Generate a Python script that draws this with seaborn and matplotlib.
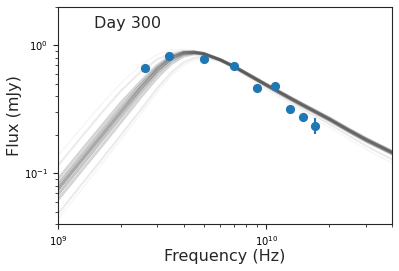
import numpy as np
import pandas as pd
import matplotlib
matplotlib.use('Agg')
import matplotlib.pyplot as plt
import seaborn as sns

sns.set_style('ticks')
plt.rcParams['font.family'] = ['DejaVu Sans']

# observed fluxes
obs_freq = [2.6e9, 3.4e9, 5.0e9, 7.0e9, 9.0e9, 1.1e10, 1.3e10, 1.5e10, 1.7e10]
obs_flux = [0.67, 0.82, 0.79, 0.685, 0.465, 0.48, 0.32, 0.275, 0.236]
obs_err = [0.012, 0.012, 0.012, 0.012, 0.010, 0.010, 0.010, 0.014, 0.032]

# model curves (GHz grid, mJy)
model_ghz = [1.0, 1.3, 1.6, 2.0, 2.5, 3.0, 3.5, 4.0, 4.5, 5.0, 6.0, 7.0, 8.5, 10, 12.5, 15, 20, 25, 30, 40]
curve_center = [0.075, 0.127, 0.192, 0.300, 0.465, 0.645, 0.795, 0.872, 0.882, 0.862, 0.772, 0.682, 0.570, 0.490, 0.400, 0.340, 0.265, 0.215, 0.183, 0.145]
curve_mid_up = [0.082, 0.139, 0.210, 0.327, 0.496, 0.675, 0.815, 0.882, 0.887, 0.864, 0.774, 0.686, 0.574, 0.494, 0.404, 0.344, 0.268, 0.218, 0.185, 0.147]
curve_mid_down = [0.068, 0.115, 0.175, 0.274, 0.430, 0.606, 0.760, 0.850, 0.870, 0.857, 0.770, 0.680, 0.566, 0.486, 0.396, 0.336, 0.262, 0.212, 0.180, 0.143]
curve_core_up = [0.090, 0.152, 0.229, 0.355, 0.525, 0.702, 0.837, 0.892, 0.892, 0.867, 0.777, 0.690, 0.578, 0.498, 0.408, 0.348, 0.272, 0.221, 0.188, 0.149]
curve_core_down = [0.062, 0.105, 0.159, 0.250, 0.395, 0.563, 0.720, 0.822, 0.857, 0.852, 0.767, 0.677, 0.562, 0.482, 0.392, 0.332, 0.258, 0.209, 0.177, 0.141]
curve_wide_up = [0.115, 0.193, 0.290, 0.440, 0.625, 0.780, 0.870, 0.905, 0.895, 0.865, 0.770, 0.680, 0.570, 0.490, 0.400, 0.340, 0.266, 0.216, 0.184, 0.146]
curve_wide_down = [0.048, 0.082, 0.125, 0.198, 0.315, 0.465, 0.615, 0.735, 0.800, 0.820, 0.760, 0.670, 0.555, 0.470, 0.378, 0.316, 0.243, 0.195, 0.164, 0.128]
curve_outer_up = [0.137, 0.228, 0.340, 0.505, 0.700, 0.850, 0.920, 0.930, 0.910, 0.875, 0.780, 0.688, 0.577, 0.497, 0.406, 0.346, 0.271, 0.220, 0.188, 0.150]
curve_outer_down = [0.044, 0.075, 0.115, 0.183, 0.292, 0.435, 0.580, 0.700, 0.770, 0.795, 0.740, 0.650, 0.535, 0.452, 0.360, 0.300, 0.229, 0.183, 0.154, 0.120]

curves = [
    (curve_outer_up, 1.0, 0.05),
    (curve_outer_down, 1.0, 0.05),
    (curve_wide_up, 1.5, 0.10),
    (curve_wide_down, 1.5, 0.10),
    (curve_core_up, 2.0, 0.22),
    (curve_core_down, 2.0, 0.22),
    (curve_mid_up, 2.0, 0.30),
    (curve_mid_down, 2.0, 0.30),
    (curve_center, 2.5, 0.45),
]

fig = plt.figure(figsize=(3.99, 2.71), dpi=100)
ax = fig.add_axes([58 / 399, 47 / 271, 334 / 399, 217 / 271])
ax.set(xscale='log', yscale='log')

model_hz = [g * 1e9 for g in model_ghz]
for vals, lw, a in curves:
    d = pd.DataFrame({'freq': model_hz, 'flux': vals})
    sns.lineplot(data=d, x='freq', y='flux', ax=ax, color='0.25', lw=lw, alpha=a, sort=False)

ax.errorbar(obs_freq, obs_flux, yerr=obs_err, fmt='o', color='#1f77b4',
            ms=5.6, elinewidth=1.5, capsize=0, zorder=5)

ax.set_xlim(1e9, 4e10)
ax.set_ylim(0.04, 2)
ax.text(0.108, 0.905, 'Day 300', transform=ax.transAxes, fontsize=11.5)
ax.set_xlabel('Frequency (Hz)', fontsize=11.5)
ax.set_ylabel('Flux (mJy)', fontsize=11.5)
ax.xaxis.set_label_coords(0.5, -0.115)
ax.yaxis.set_label_coords(-0.108, 0.5)
ax.tick_params(labelsize=7.2, labelcolor='black')
for s in ax.spines.values():
    s.set_color('0.15')

fig.savefig('out.png', dpi=100)
